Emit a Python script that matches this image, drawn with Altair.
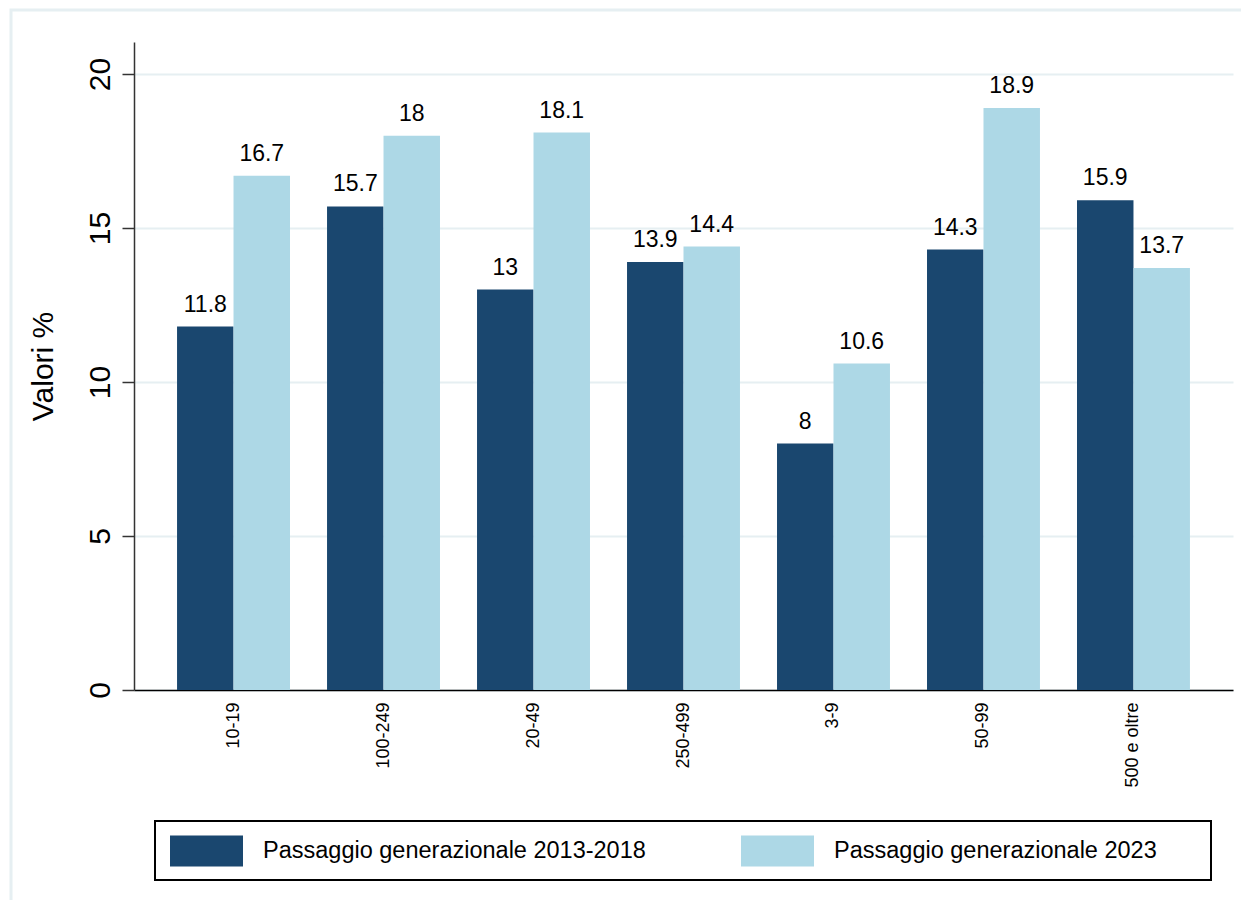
import altair as alt
import pandas as pd

categories = ["10-19", "100-249", "20-49", "250-499", "3-9", "50-99", "500 e oltre"]
series_names = ["Passaggio generazionale 2013-2018", "Passaggio generazionale 2023"]
values_2013_2018 = [11.8, 15.7, 13, 13.9, 8, 14.3, 15.9]
values_2023 = [16.7, 18, 18.1, 14.4, 10.6, 18.9, 13.7]
colors = ["#1a476f", "#add8e6"]
y_ticks = [0, 5, 10, 15, 20]

rows = []
for c, a, b in zip(categories, values_2013_2018, values_2023):
    rows.append({"classe": c, "serie": series_names[0], "valore": a})
    rows.append({"classe": c, "serie": series_names[1], "valore": b})
df = pd.DataFrame(rows)

FONT = "Liberation Sans"
W, H = 1099, 648

x = alt.X(
    "classe:N", sort=categories, title=None,
    scale=alt.Scale(paddingInner=0.247, paddingOuter=0.287),
    axis=alt.Axis(labelAngle=270, labelFontSize=18, labelPadding=12, ticks=False,
                  domainColor="black", domainWidth=1.5, labelColor="black",
                  labelFont=FONT, grid=False),
)
xoff = alt.XOffset("serie:N", sort=series_names,
                   scale=alt.Scale(paddingInner=0, paddingOuter=0))
y = alt.Y(
    "valore:Q", title="Valori %",
    scale=alt.Scale(domain=[0, 21.04], nice=False, zero=True),
    axis=alt.Axis(values=y_ticks, labelAngle=270, labelFontSize=30, labelFont=FONT,
                  labelColor="black", labelPadding=7, tickSize=12, tickColor="#333333",
                  tickWidth=1.5, domainColor="#333333", domainWidth=1.5,
                  grid=True, gridColor="#e6eff2", gridWidth=2,
                  titleFontSize=30, titleFont=FONT, titleFontWeight="normal",
                  titleColor="black", titlePadding=27),
)

base = alt.Chart(df).encode(x=x, xOffset=xoff, y=y)

bars = base.mark_bar().encode(
    color=alt.Color(
        "serie:N", sort=series_names,
        scale=alt.Scale(domain=series_names, range=colors),
        legend=alt.Legend(
            title=None, orient="none", legendX=36, legendY=772,
            direction="horizontal",
            symbolType="M-1,-0.4247H1V0.4247H-1Z", symbolSize=5329,
            symbolStrokeWidth=0, symbolOpacity=1,
            labelFontSize=23.5, labelFont=FONT, labelColor="black",
            labelOffset=20, columnPadding=95, padding=0, labelLimit=700,
        ),
    )
)

labels = base.mark_text(baseline="alphabetic", dy=-15, fontSize=23, font=FONT,
                        color="black").encode(
    text=alt.Text("valore:Q", format=".1~f")
)

frame = alt.Chart(alt.Data(values=[{}])).mark_rect(
    fill="transparent", stroke="#e6eff2", strokeWidth=3
).encode(x=alt.value(-123), x2=alt.value(1300), y=alt.value(-32), y2=alt.value(1000))

legend_box = alt.Chart(alt.Data(values=[{}])).mark_rect(
    fill="transparent", stroke="black", strokeWidth=2
).encode(x=alt.value(21), x2=alt.value(1077), y=alt.value(779), y2=alt.value(838))

chart = alt.layer(frame, legend_box, bars, labels).properties(
    width=W, height=H,
    autosize=alt.AutoSizeParams(type="none"),
    padding={"left": 126, "top": 34, "right": 8, "bottom": 210},
    background="white",
).configure_view(stroke=None)

chart.save("out.html", embed_options={"renderer": "svg", "actions": False})
